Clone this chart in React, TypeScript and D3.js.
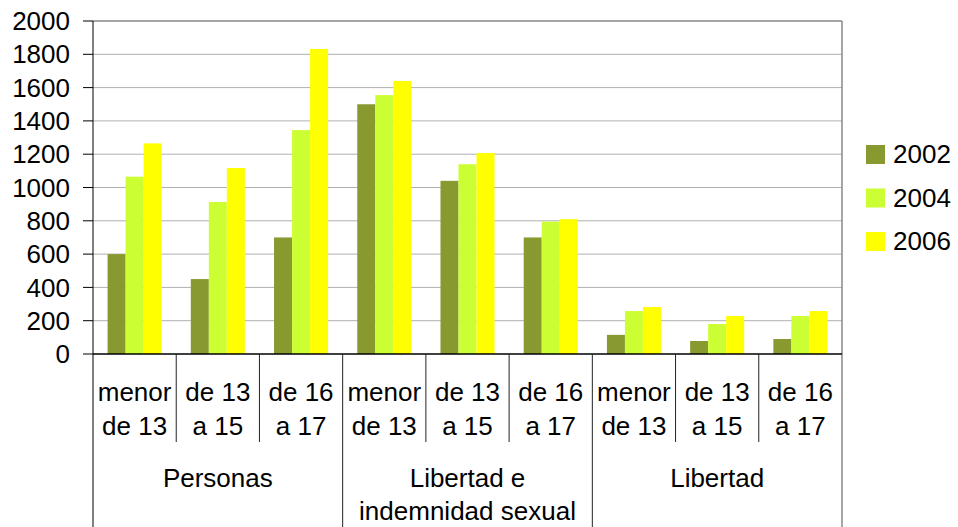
import React from 'react'
import * as d3 from 'd3'

const years = ['2002', '2004', '2006']
const subLabels = [
  ['menor', 'de 13'], ['de 13', 'a 15'], ['de 16', 'a 17'],
  ['menor', 'de 13'], ['de 13', 'a 15'], ['de 16', 'a 17'],
  ['menor', 'de 13'], ['de 13', 'a 15'], ['de 16', 'a 17']
]
const groupLabels = [['Personas'], ['Libertad e', 'indemnidad sexual'], ['Libertad']]
const values2002 = [600, 450, 700, 1500, 1040, 700, 115, 78, 90]
const values2004 = [1065, 913, 1345, 1555, 1140, 795, 258, 180, 228]
const values2006 = [1265, 1117, 1832, 1640, 1207, 810, 282, 228, 258]
const yTicks = [0, 200, 400, 600, 800, 1000, 1200, 1400, 1600, 1800, 2000]

const colours = ['#87992f', '#ccff33', '#ffff00']
const series = [values2002, values2004, values2006]

export default function App() {
  const width = 958
  const height = 527
  const left = 93
  const right = 842
  const top = 21
  const bottom = 354
  const font = '"Liberation Sans", Arial, sans-serif'

  const x0 = d3.scaleBand<number>().domain(d3.range(subLabels.length)).range([left, right]).padding(0)
  const x1 = d3.scaleBand<string>().domain(years).range([0, x0.bandwidth()]).paddingInner(0).paddingOuter(0.81)
  const y = d3.scaleLinear().domain([0, 2000]).range([bottom, top])

  const bars = series.flatMap((vals, s) =>
    vals.map((v, i) => (
      <rect
        key={`bar_${s}_${i}`}
        x={(x0(i) as number) + (x1(years[s]) as number)}
        y={y(v)}
        width={x1.bandwidth()}
        height={y(0) - y(v)}
        fill={colours[s]}
      />
    ))
  )

  const groupWidth = x0.step() * 3

  return (
    <svg width={width} height={height} style={{ position: 'absolute', left: 0, top: 0 }} fontFamily={font}>
      <rect x={0} y={0} width={width} height={height} fill="#fff" />
      {yTicks.slice(1).map(t => (
        <line key={`g_${t}`} x1={left} x2={right} y1={y(t)} y2={y(t)} stroke={t === 2000 ? '#888' : '#b0b0b0'} strokeWidth={t === 2000 ? 1.5 : 1} />
      ))}
      <line x1={right} x2={right} y1={top} y2={height} stroke="#888" strokeWidth={1.5} />
      {bars}
      {yTicks.map(t => (
        <g key={`t_${t}`}>
          <line x1={left - 10} x2={left} y1={y(t)} y2={y(t)} stroke="#000" />
          <text x={70} y={y(t)} dy="0.35em" textAnchor="end" fontSize={26}>{t}</text>
        </g>
      ))}
      <line x1={left} x2={left} y1={top} y2={height} stroke="#000" />
      <line x1={left} x2={right} y1={bottom} y2={bottom} stroke="#000" strokeWidth={1.5} />
      {subLabels.map((lab, i) => (
        <g key={`c_${i}`}>
          {i % 3 !== 0 && (
            <line x1={x0(i) as number} x2={x0(i) as number} y1={bottom} y2={442} stroke="#222" />
          )}
          {lab.map((l, k) => (
            <text key={k} x={(x0(i) as number) + x0.bandwidth() / 2} y={401 + k * 34} textAnchor="middle" fontSize={26}>{l}</text>
          ))}
        </g>
      ))}
      {groupLabels.map((lab, g) => (
        <g key={`grp_${g}`}>
          {g > 0 && (
            <line x1={left + g * groupWidth} x2={left + g * groupWidth} y1={bottom} y2={height} stroke="#222" />
          )}
          {lab.map((l, k) => (
            <text key={k} x={left + g * groupWidth + groupWidth / 2} y={487 + k * 33} textAnchor="middle" fontSize={26}>{l}</text>
          ))}
        </g>
      ))}
      {years.map((yr, s) => (
        <g key={`leg_${yr}`} transform={`translate(866, ${145 + s * 43.5})`}>
          <rect x={0} y={0} width={19} height={19} fill={colours[s]} />
          <text x={27} y={18} fontSize={26}>{yr}</text>
        </g>
      ))}
    </svg>
  )
}
